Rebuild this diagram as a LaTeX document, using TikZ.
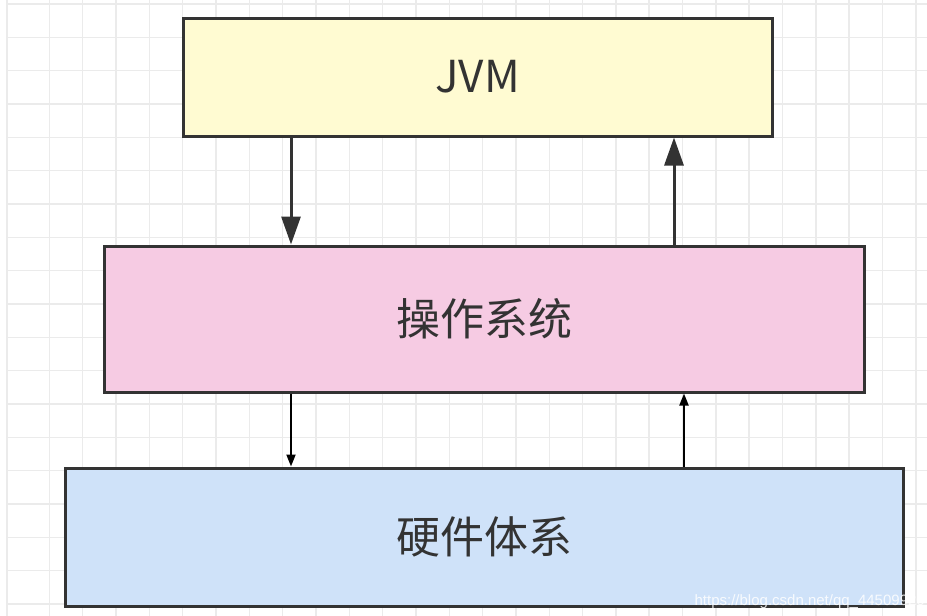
\documentclass[tikz,border=0pt]{standalone}
\usepackage{fontspec}
\setmainfont{Noto Sans CJK SC}
\newfontfamily\markfont{Liberation Sans}
\usetikzlibrary{arrows.meta}

\definecolor{gridgray}{HTML}{EBEBEB}
\definecolor{edgegray}{HTML}{333333}
\definecolor{jvmyellow}{HTML}{FFFBD2}
\definecolor{ospink}{HTML}{F6CBE3}
\definecolor{hwblue}{HTML}{CFE2F9}

\tikzset{
  layer/.style={draw=edgegray, line width=3pt, rectangle, text=edgegray,
                font=\fontsize{44}{50}\selectfont},
  bigarrow/.style={draw=edgegray, line width=3pt,
                   -{Triangle[length=28pt,width=19pt]}},
  smallarrow/.style={draw=black, line width=2pt,
                     -{Triangle[length=12pt,width=9pt]}},
}

\begin{document}
\begin{tikzpicture}[x=1pt,y=-1pt]
  \useasboundingbox (0,0) rectangle (927,616);
  % grid
  \draw[gridgray, line width=1.5pt] (7,0) -- (7,616);
  \foreach \i in {0,...,26}
    \draw[gridgray, line width=1.5pt] ({49.3+33.33*\i},0) -- ({49.3+33.33*\i},616);
  \foreach \j in {0,...,18}
    \draw[gridgray, line width=1.5pt] (7,{4+33.33*\j}) -- (927,{4+33.33*\j});

  \node[layer, fill=jvmyellow, minimum width=589pt, minimum height=118pt] (jvm) at (477.5,77) {JVM};
  \node[layer, fill=ospink, minimum width=760pt, minimum height=146pt] (os) at (484,319) {操作系统};
  \node[layer, fill=hwblue, minimum width=838pt, minimum height=138pt] (hw) at (484,537) {硬件体系};

  \coordinate (left) at (291,0);
  \coordinate (right) at (674,0);
  \coordinate (rightlow) at (684,0);

  \draw[bigarrow] (jvm.south -| left) -- (os.north -| left);
  \draw[bigarrow] (os.north -| right) -- (jvm.south -| right);
  \draw[smallarrow] (os.south -| left) -- (hw.north -| left);
  \draw[smallarrow] (hw.north -| rightlow) -- (os.south -| rightlow);

  \node[anchor=east, text=white, opacity=0.85, font=\markfont\fontsize{15}{15}\selectfont,
        inner sep=0pt] (mark) at (925,602) {https://blog.csdn.net/qq\_44509920};
\end{tikzpicture}
\end{document}
